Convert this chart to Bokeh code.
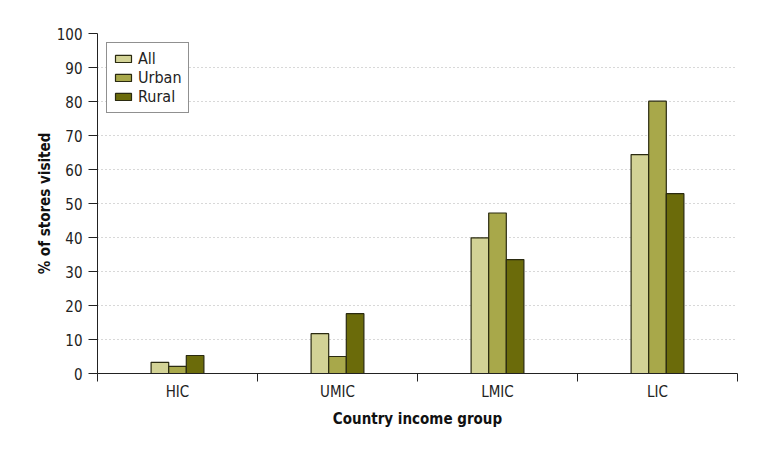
from bokeh.plotting import figure
from bokeh.models import FixedTicker, Legend, LegendItem, ColumnDataSource
from bokeh.embed import file_html
from bokeh.resources import INLINE

categories = ["HIC", "UMIC", "LMIC", "LIC"]
series = ["All", "Urban", "Rural"]
all_vals = [3.3, 11.7, 39.9, 64.4]
urban_vals = [2.1, 5.0, 47.2, 80.1]
rural_vals = [5.3, 17.6, 33.5, 52.9]
colors = ["#d3d396", "#a8a84a", "#6b6b0a"]
y_ticks = [0, 10, 20, 30, 40, 50, 60, 70, 80, 90, 100]

FONT = "'DejaVu Sans Condensed', 'Roboto Condensed', Roboto, sans-serif"

p = figure(width=763, height=446, frame_width=640, frame_height=340,
           x_range=(0, 4), y_range=(0, 100),
           output_backend="svg", toolbar_location=None,
           min_border_left=97, min_border_right=26, min_border_top=33, min_border_bottom=73)
p.outline_line_color = None
p.background_fill_color = "white"

bw = 0.11
offsets = [-bw, 0.0, bw]
renderers = []
for vals, col, off in zip([all_vals, urban_vals, rural_vals], colors, offsets):
    xs = [i + 0.5 + off for i in range(len(categories))]
    src = ColumnDataSource(dict(x=xs, top=vals))
    r = p.vbar(x="x", top="top", width=bw, bottom=0, source=src,
               fill_color=col, line_color="#2a2a10", line_width=1.2)
    renderers.append(r)

# x axis
xa = p.xaxis[0]
xa.ticker = FixedTicker(ticks=[i + 0.5 for i in range(len(categories))],
                        minor_ticks=list(range(len(categories) + 1)))
xa.major_label_overrides = {i + 0.5: c for i, c in enumerate(categories)}
xa.major_tick_out = 0
xa.major_tick_in = 0
xa.minor_tick_out = 8
xa.minor_tick_in = 0
xa.minor_tick_line_color = "#222222"
xa.axis_line_color = "#222222"
xa.major_label_text_font = FONT
xa.major_label_text_font_size = "15px"
xa.major_label_text_color = "#222222"
xa.major_label_standoff = 1
xa.axis_label = "Country income group"
xa.axis_label_text_font = FONT
xa.axis_label_text_font_style = "bold"
xa.axis_label_text_font_size = "15px"
xa.axis_label_text_color = "#111111"
xa.axis_label_standoff = 6

# y axis
ya = p.yaxis[0]
ya.ticker = FixedTicker(ticks=y_ticks, minor_ticks=[])
ya.major_tick_out = 9
ya.major_tick_in = 0
ya.major_tick_line_color = "#222222"
ya.axis_line_color = "#222222"
ya.major_label_text_font = FONT
ya.major_label_text_font_size = "15px"
ya.major_label_text_color = "#222222"
ya.major_label_standoff = 6
ya.axis_label = "% of stores visited"
ya.axis_label_text_font = FONT
ya.axis_label_text_font_style = "bold"
ya.axis_label_text_font_size = "15px"
ya.axis_label_text_color = "#111111"
ya.axis_label_standoff = 0

p.xgrid.grid_line_color = None
p.ygrid.ticker = FixedTicker(ticks=y_ticks[1:])
p.ygrid.grid_line_color = "#b0b0b0"
p.ygrid.grid_line_dash = "1 3"
p.ygrid.grid_line_width = 1

legend = Legend(items=[LegendItem(label=s, renderers=[r]) for s, r in zip(series, renderers)],
                location="top_left")
legend.margin = 9
legend.padding = 6
legend.spacing = 0
legend.glyph_width = 20
legend.glyph_height = 9
legend.label_height = 17
legend.label_text_font = FONT
legend.label_text_font_size = "16px"
legend.label_text_color = "#222222"
legend.label_standoff = 5
legend.border_line_color = "#222222"
legend.border_line_width = 1
legend.background_fill_color = "white"
legend.background_fill_alpha = 1
p.add_layout(legend)

open("out.html", "w").write(file_html(p, INLINE))
